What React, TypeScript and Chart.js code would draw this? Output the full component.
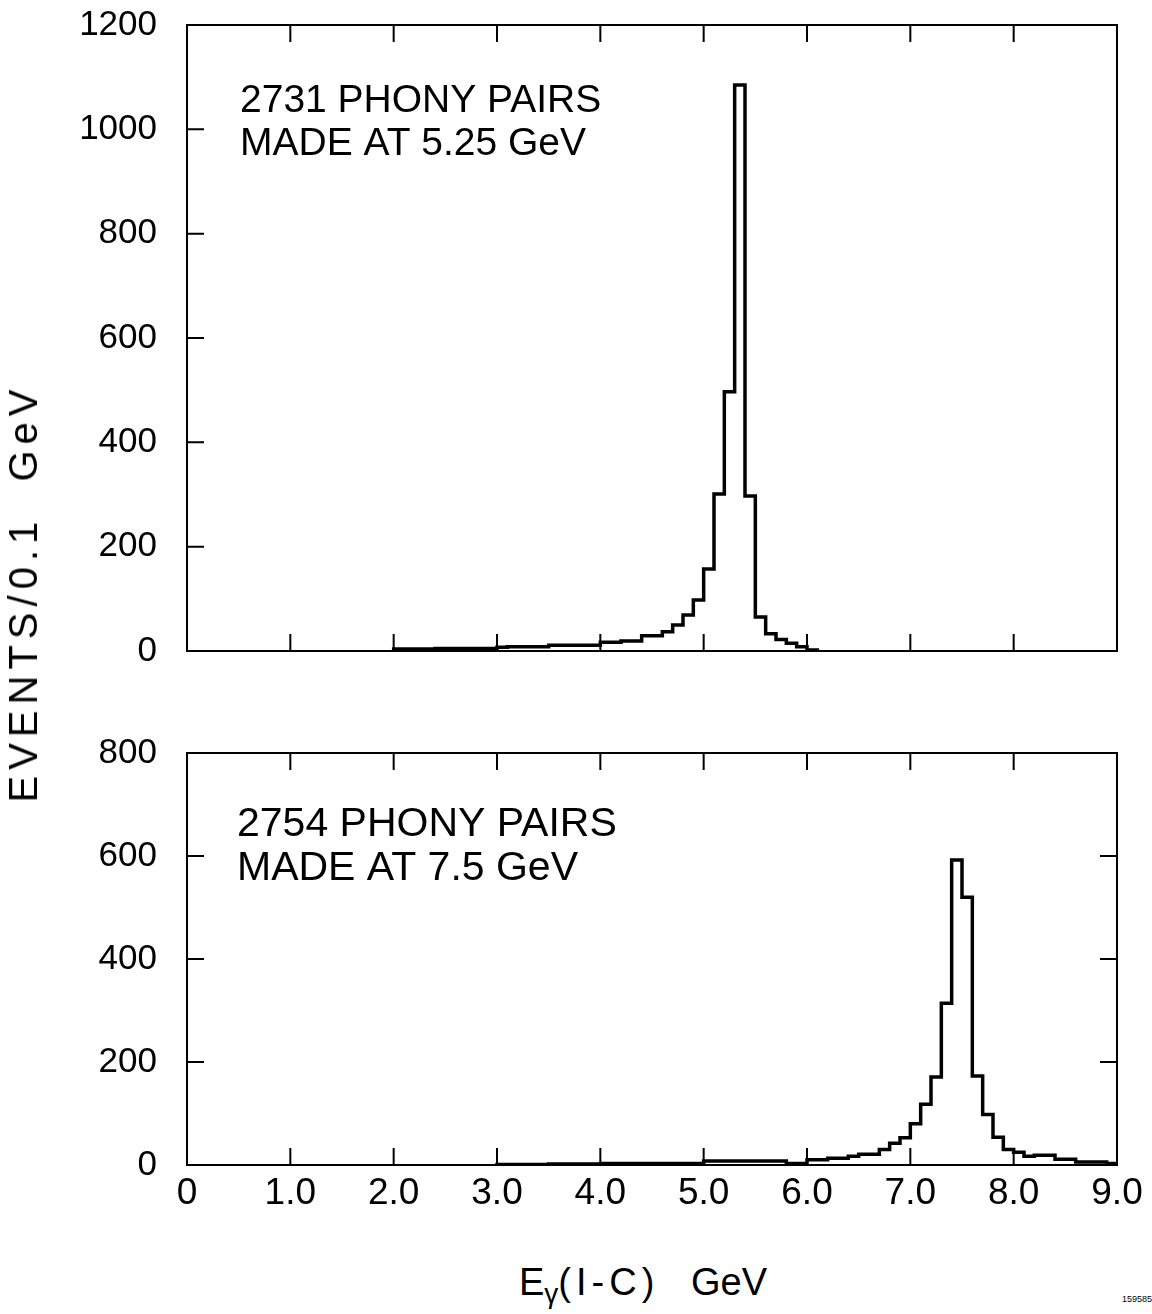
import React, { useEffect, useRef } from 'react';
import { Chart, registerables } from 'chart.js';

Chart.register(...registerables);

// ---------- data ----------
const BIN_WIDTH = 0.1;

// upper panel: 2731 phony pairs made at 5.25 GeV (bins of 0.1 GeV starting at 2.0)
const topStart = 2.0;
const topCounts = [
  4, 4, 4, 4, 5, 5, 5, 5, 5, 5, // 2.0 - 2.9
  7, 8, 8, 8, 8, // 3.0 - 3.4
  11, 11, 11, 11, 11, // 3.5 - 3.9
  17, 17, 19, 19, 29, 29, 37, 50, 69, 98, // 4.0 - 4.9
  157, 301, 497, 1085, 297, 65, 33, 22, 15, 8, // 5.0 - 5.9
  2, // 6.0
];

// lower panel: 2754 phony pairs made at 7.5 GeV (bins of 0.1 GeV starting at 3.0)
const bottomStart = 3.0;
const bottomCounts = [
  1, 1, 1, 1, 1, 2, 2, 2, 2, 2, // 3.0 - 3.9
  3, 3, 3, 3, 3, 3, 3, 3, 3, 3, // 4.0 - 4.9
  8, 8, 8, 8, 8, 8, 8, 8, 3, 3, // 5.0 - 5.9
  10, 10, 13, 13, 17, 21, 21, 30, 42, 53, // 6.0 - 6.9
  80, 118, 171, 314, 592, 520, 173, 98, 54, 30, // 7.0 - 7.9
  25, 17, 19, 19, 11, 11, 6, 6, 6, 3, // 8.0 - 8.9
];

const xTickValues = [0, 1, 2, 3, 4, 5, 6, 7, 8, 9];
const xTickLabels = ['0', '1.0', '2.0', '3.0', '4.0', '5.0', '6.0', '7.0', '8.0', '9.0'];
const topYTicks = [0, 200, 400, 600, 800, 1000, 1200];
const bottomYTicks = [0, 200, 400, 600, 800];
const topNote = ['2731 PHONY PAIRS', 'MADE AT 5.25 GeV'];
const bottomNote = ['2754 PHONY PAIRS', 'MADE AT 7.5 GeV'];
const yTitle = 'EVENTS/0.1  GeV';
const figureId = '159585';

// ---------- helpers ----------
const TICK_FONT = "'Liberation Sans', Arial, sans-serif";
const NOTE_FONT = "'Liberation Sans', Arial, sans-serif";

function histPoints(start: number, counts: number[]) {
  const pts: { x: number; y: number }[] = [{ x: start, y: 0 }];
  counts.forEach((c, i) => pts.push({ x: +(start + i * BIN_WIDTH).toFixed(2), y: c }));
  pts.push({ x: +(start + counts.length * BIN_WIDTH).toFixed(2), y: 0 });
  return pts;
}

const framePlugin = {
  id: 'frame',
  afterDatasetsDraw(chart: any, _args: any, opts: any) {
    const { ctx, chartArea } = chart;
    const { left, right, top, bottom } = chartArea;
    const x = chart.scales.x;
    const y = chart.scales.y;
    const L = 17;
    ctx.save();
    ctx.strokeStyle = '#000';
    ctx.lineWidth = 2;
    ctx.strokeRect(left, top, right - left, bottom - top);
    ctx.beginPath();
    for (const v of opts.xTicks) {
      if (v <= x.min || v >= x.max) continue;
      const px = x.getPixelForValue(v);
      ctx.moveTo(px, top);
      ctx.lineTo(px, top + L);
      ctx.moveTo(px, bottom);
      ctx.lineTo(px, bottom - L);
    }
    for (const v of opts.yTicks) {
      if (v <= y.min || v >= y.max) continue;
      const py = y.getPixelForValue(v);
      ctx.moveTo(left, py);
      ctx.lineTo(left + L, py);
      if (opts.rightTicks) {
        ctx.moveTo(right, py);
        ctx.lineTo(right - L, py);
      }
    }
    ctx.stroke();
    ctx.fillStyle = '#000';
    ctx.font = `${opts.noteSize}px ${NOTE_FONT}`;
    ctx.textBaseline = 'middle';
    ctx.textAlign = 'left';
    (opts.note as string[]).forEach((t, i) => {
      ctx.fillText(t, left + opts.noteDx, top + opts.noteDy + i * opts.noteGap);
    });
    ctx.restore();
  },
};

type PanelProps = {
  start: number;
  counts: number[];
  yMax: number;
  yTicks: number[];
  showXLabels: boolean;
  width: number;
  height: number;
  padTop: number;
  padBottom: number;
  xAxisHeight: number;
  rightTicks: boolean;
  note: string[];
  noteSize: number;
  noteDx: number;
  noteDy: number;
  noteGap: number;
};

function Panel(p: PanelProps) {
  const ref = useRef<HTMLCanvasElement | null>(null);
  useEffect(() => {
    if (!ref.current) return;
    const chart = new Chart(ref.current, {
      type: 'line',
      data: {
        datasets: [
          {
            data: histPoints(p.start, p.counts),
            stepped: 'before',
            borderColor: '#000',
            borderWidth: 3.5,
            pointRadius: 0,
            fill: false,
            tension: 0,
          } as any,
        ],
      },
      options: {
        animation: false,
        responsive: false,
        maintainAspectRatio: false,
        devicePixelRatio: 1,
        layout: { padding: { top: p.padTop, right: 35, bottom: p.padBottom, left: 0 } },
        plugins: {
          legend: { display: false },
          tooltip: { enabled: false },
          frame: {
            xTicks: xTickValues,
            yTicks: p.yTicks,
            rightTicks: p.rightTicks,
            note: p.note,
            noteSize: p.noteSize,
            noteDx: p.noteDx,
            noteDy: p.noteDy,
            noteGap: p.noteGap,
          },
        } as any,
        scales: {
          x: {
            type: 'linear',
            min: 0,
            max: 9,
            grid: { display: false, drawTicks: false },
            border: { display: false },
            afterBuildTicks: (s: any) => {
              s.ticks = xTickValues.map((v) => ({ value: v }));
            },
            ticks: {
              display: p.showXLabels,
              padding: 7,
              color: '#000',
              autoSkip: false,
              maxRotation: 0,
              font: { family: TICK_FONT, size: 37 },
              callback: (_v: any, i: number) => xTickLabels[i],
            },
            afterFit: (s: any) => {
              s.height = p.xAxisHeight;
              s.paddingLeft = 0;
              s.paddingRight = 0;
            },
          },
          y: {
            type: 'linear',
            min: 0,
            max: p.yMax,
            grid: { display: false, drawTicks: false },
            border: { display: false },
            afterBuildTicks: (s: any) => {
              s.ticks = p.yTicks.map((v) => ({ value: v }));
            },
            ticks: {
              padding: 30,
              color: '#000',
              font: { family: TICK_FONT, size: 35 },
              callback: (v: any) => String(v),
            },
            afterFit: (s: any) => {
              s.width = 187;
              s.paddingTop = 0;
              s.paddingBottom = 0;
            },
          },
        } as any,
      },
      plugins: [framePlugin as any],
    });
    return () => chart.destroy();
  }, []);
  return (
    <canvas
      ref={ref}
      width={p.width}
      height={p.height}
      style={{ display: 'block', width: p.width, height: p.height }}
    />
  );
}

export default function App() {
  return (
    <div
      style={{
        position: 'absolute',
        left: 0,
        top: 0,
        width: 1152,
        height: 1314,
        background: '#fff',
        overflow: 'hidden',
        color: '#000',
      }}
    >
      <div style={{ position: 'absolute', left: 0, top: 0 }}>
        <Panel
          start={topStart}
          counts={topCounts}
          yMax={1200}
          yTicks={topYTicks}
          showXLabels={false}
          width={1152}
          height={700}
          padTop={25}
          padBottom={49}
          xAxisHeight={0}
          rightTicks={false}
          note={topNote}
          noteSize={39}
          noteDx={53}
          noteDy={76}
          noteGap={43}
        />
      </div>
      <div style={{ position: 'absolute', left: 0, top: 700 }}>
        <Panel
          start={bottomStart}
          counts={bottomCounts}
          yMax={800}
          yTicks={bottomYTicks}
          showXLabels={true}
          width={1152}
          height={540}
          padTop={53}
          padBottom={0}
          xAxisHeight={75}
          rightTicks={true}
          note={bottomNote}
          noteSize={41}
          noteDx={50}
          noteDy={72}
          noteGap={44}
        />
      </div>
      {/* shared y-axis title */}
      <div
        style={{
          position: 'absolute',
          left: 23,
          top: 593,
          transform: 'translate(-50%, -50%) rotate(-90deg)',
          whiteSpace: 'pre',
          fontFamily: NOTE_FONT,
          fontSize: 40,
          lineHeight: 1,
          letterSpacing: 6,
        }}
      >
        {yTitle}
      </div>
      {/* x-axis title */}
      <div
        style={{
          position: 'absolute',
          left: 519,
          top: 1263,
          whiteSpace: 'pre',
          fontFamily: TICK_FONT,
          fontSize: 38,
          lineHeight: 1,
        }}
      >
        <span>E</span>
        <span style={{ fontSize: 28, position: 'relative', top: 8 }}>γ</span>
        <span style={{ letterSpacing: 5 }}>(I-C)</span>
        <span>{'   GeV'}</span>
      </div>
      <div
        style={{
          position: 'absolute',
          left: 1122,
          top: 1295,
          fontFamily: NOTE_FONT,
          fontSize: 9,
          lineHeight: 1,
        }}
      >
        {figureId}
      </div>
    </div>
  );
}
